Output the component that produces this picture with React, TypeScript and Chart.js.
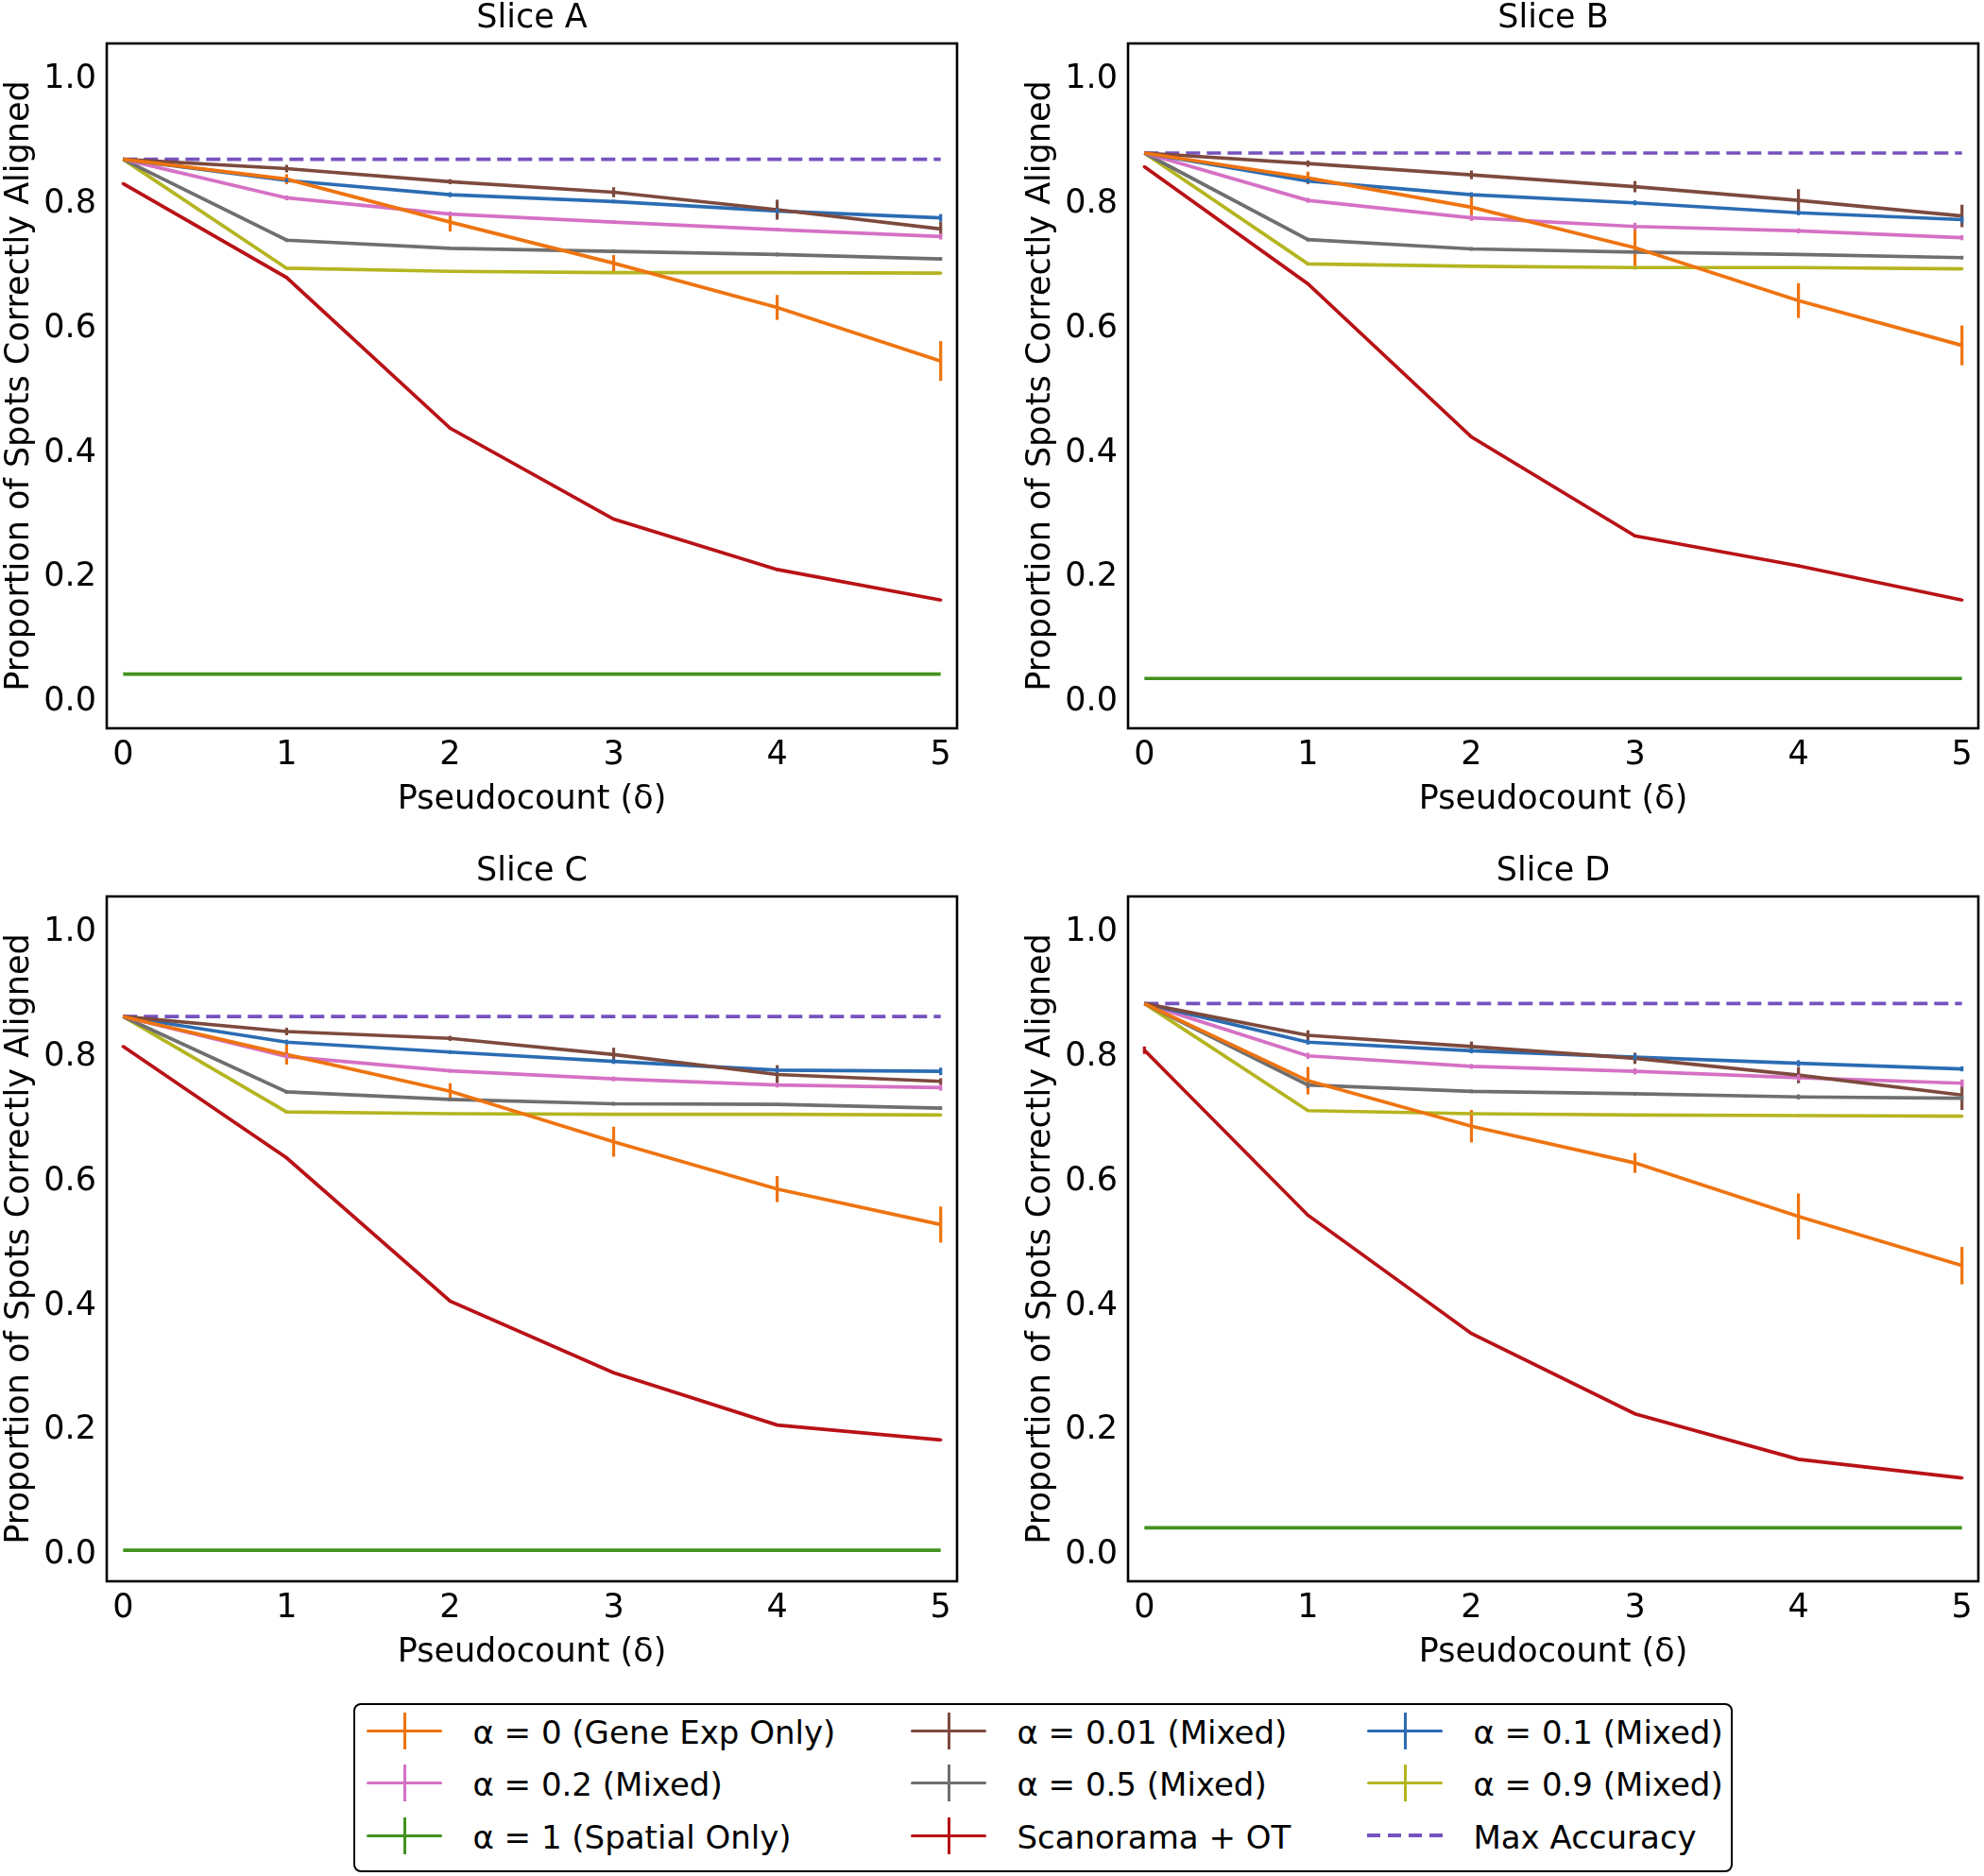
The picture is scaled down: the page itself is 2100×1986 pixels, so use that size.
import React, { useEffect, useRef } from "react";
import { Chart, registerables } from "chart.js";

Chart.register(...registerables);

// ---------------- data ----------------
const pseudocounts = [0, 1, 2, 3, 4, 5];
const yTickValues = [0, 0.2, 0.4, 0.6, 0.8, 1.0];
const sliceNames = ["Slice A", "Slice B", "Slice C", "Slice D"];
const maxAccuracy = [0.864, 0.874, 0.857, 0.878];

// one row per slice (A, B, C, D), one value per pseudocount
const alpha0 = [
  [0.864, 0.832, 0.763, 0.697, 0.626, 0.540],
  [0.874, 0.834, 0.787, 0.722, 0.637, 0.565],
  [0.857, 0.796, 0.737, 0.656, 0.580, 0.523],
  [0.878, 0.754, 0.681, 0.622, 0.536, 0.457],
];
const alpha0Err = [
  [0, 0.008, 0.015, 0.013, 0.020, 0.032],
  [0, 0.010, 0.021, 0.035, 0.028, 0.032],
  [0, 0.016, 0.013, 0.024, 0.021, 0.029],
  [0, 0.022, 0.026, 0.016, 0.037, 0.030],
];
const alpha001 = [
  [0.864, 0.849, 0.828, 0.811, 0.783, 0.752],
  [0.874, 0.857, 0.839, 0.820, 0.798, 0.773],
  [0.857, 0.833, 0.822, 0.796, 0.764, 0.753],
  [0.878, 0.827, 0.809, 0.790, 0.763, 0.731],
];
const alpha001Err = [
  [0, 0.006, 0.004, 0.008, 0.016, 0.012],
  [0, 0.005, 0.007, 0.009, 0.018, 0.018],
  [0, 0.006, 0.004, 0.011, 0.015, 0.005],
  [0, 0.008, 0.008, 0.009, 0.013, 0.024],
];
const alpha01 = [
  [0.864, 0.830, 0.807, 0.796, 0.781, 0.770],
  [0.874, 0.829, 0.807, 0.794, 0.778, 0.767],
  [0.857, 0.816, 0.800, 0.785, 0.771, 0.769],
  [0.878, 0.816, 0.802, 0.792, 0.782, 0.773],
];
const alpha01Err = [
  [0, 0.003, 0.004, 0.003, 0.004, 0.006],
  [0, 0.004, 0.004, 0.004, 0.004, 0.005],
  [0, 0.004, 0.003, 0.004, 0.004, 0.006],
  [0, 0.004, 0.004, 0.005, 0.005, 0.004],
];
const alpha02 = [
  [0.864, 0.802, 0.776, 0.763, 0.751, 0.740],
  [0.874, 0.798, 0.770, 0.756, 0.749, 0.738],
  [0.857, 0.793, 0.770, 0.757, 0.747, 0.743],
  [0.878, 0.794, 0.777, 0.769, 0.759, 0.750],
];
const alpha02Err = [
  [0, 0.004, 0.004, 0.003, 0.003, 0.005],
  [0, 0.004, 0.005, 0.006, 0.004, 0.004],
  [0, 0.004, 0.003, 0.004, 0.004, 0.005],
  [0, 0.005, 0.004, 0.005, 0.005, 0.006],
];
const alpha05 = [
  [0.864, 0.734, 0.721, 0.716, 0.711, 0.704],
  [0.874, 0.735, 0.720, 0.715, 0.711, 0.706],
  [0.857, 0.736, 0.724, 0.717, 0.716, 0.710],
  [0.878, 0.747, 0.737, 0.733, 0.728, 0.726],
];
const alpha05Err = [
  [0, 0.003, 0.002, 0.003, 0.003, 0.003],
  [0, 0.003, 0.003, 0.003, 0.002, 0.003],
  [0, 0.003, 0.003, 0.003, 0.002, 0.003],
  [0, 0.005, 0.003, 0.003, 0.004, 0.004],
];
const alpha09 = [
  [0.864, 0.689, 0.684, 0.682, 0.682, 0.681],
  [0.874, 0.696, 0.692, 0.690, 0.690, 0.688],
  [0.857, 0.704, 0.701, 0.700, 0.700, 0.699],
  [0.878, 0.706, 0.701, 0.699, 0.698, 0.697],
];
const alpha09Err = [
  [0, 0.002, 0.002, 0.002, 0.002, 0.002],
  [0, 0.002, 0.002, 0.003, 0.002, 0.002],
  [0, 0.002, 0.002, 0.002, 0.002, 0.002],
  [0, 0.002, 0.002, 0.002, 0.002, 0.002],
];
const alpha1 = [
  [0.037, 0.037, 0.037, 0.037, 0.037, 0.037],
  [0.030, 0.030, 0.030, 0.030, 0.030, 0.030],
  [0.0, 0.0, 0.0, 0.0, 0.0, 0.0],
  [0.036, 0.036, 0.036, 0.036, 0.036, 0.036],
];
const scanoramaOT = [
  [0.825, 0.674, 0.432, 0.286, 0.205, 0.156],
  [0.852, 0.664, 0.418, 0.259, 0.211, 0.156],
  [0.809, 0.630, 0.400, 0.285, 0.201, 0.177],
  [0.803, 0.538, 0.348, 0.219, 0.146, 0.116],
];
const scanoramaOTErr = [
  [0.002, 0.002, 0.002, 0.002, 0.002, 0.002],
  [0.002, 0.002, 0.002, 0.002, 0.002, 0.002],
  [0.002, 0.002, 0.002, 0.002, 0.002, 0.002],
  [0.006, 0.002, 0.002, 0.002, 0.002, 0.002],
];

const seriesLabels = [
  "α = 0 (Gene Exp Only)",
  "α = 0.01 (Mixed)",
  "α = 0.1 (Mixed)",
  "α = 0.2 (Mixed)",
  "α = 0.5 (Mixed)",
  "α = 0.9 (Mixed)",
  "α = 1 (Spatial Only)",
  "Scanorama + OT",
  "Max Accuracy",
];

// ---------------- styles ----------------
const FONT = "'DejaVu Sans', 'Liberation Sans', sans-serif";
const FONT_SIZE = 35;
const LEGEND_FONT_SIZE = 34;
const LINE_W = 3.7;
const colors = {
  orange: "#ee7410",
  brown: "#7d4a3e",
  blue: "#2b6cb3",
  pink: "#d571c4",
  gray: "#6f6f6f",
  olive: "#b4b521",
  green: "#43921f",
  red: "#b81217",
  purple: "#7652bf",
};

const seriesDefs = [
  { label: seriesLabels[0], values: alpha0, errors: alpha0Err, color: colors.orange },
  { label: seriesLabels[1], values: alpha001, errors: alpha001Err, color: colors.brown },
  { label: seriesLabels[2], values: alpha01, errors: alpha01Err, color: colors.blue },
  { label: seriesLabels[3], values: alpha02, errors: alpha02Err, color: colors.pink },
  { label: seriesLabels[4], values: alpha05, errors: alpha05Err, color: colors.gray },
  { label: seriesLabels[5], values: alpha09, errors: alpha09Err, color: colors.olive },
  { label: seriesLabels[6], values: alpha1, errors: null, color: colors.green },
  { label: seriesLabels[7], values: scanoramaOT, errors: scanoramaOTErr, color: colors.red },
];

const CANVAS_W = 1019;
const CANVAS_H = 900;
const panelPositions = [
  { left: 0, top: 0 },
  { left: 1081, top: 0 },
  { left: 0, top: 903 },
  { left: 1081, top: 903 },
];

const errorBarPlugin = {
  id: "errorBars",
  afterDatasetsDraw(chart: any) {
    const { ctx, scales } = chart;
    const x = scales.x;
    const y = scales.y;
    ctx.save();
    chart.data.datasets.forEach((ds: any) => {
      if (!ds.errors) return;
      ctx.strokeStyle = ds.borderColor;
      ctx.lineWidth = 3.2;
      ds.data.forEach((p: any, i: number) => {
        const e = ds.errors[i];
        if (!e) return;
        const px = x.getPixelForValue(p.x);
        ctx.beginPath();
        ctx.moveTo(px, y.getPixelForValue(p.y - e));
        ctx.lineTo(px, y.getPixelForValue(p.y + e));
        ctx.stroke();
      });
    });
    ctx.restore();
  },
};

const framePlugin = {
  id: "frameTitle",
  afterDraw(chart: any, _args: any, opts: any) {
    const { ctx, chartArea: a } = chart;
    ctx.save();
    ctx.strokeStyle = "#000";
    ctx.lineWidth = 2.6;
    ctx.strokeRect(a.left, a.top, a.right - a.left, a.bottom - a.top);
    ctx.fillStyle = "#000";
    ctx.font = `${FONT_SIZE}px ${FONT}`;
    ctx.textAlign = "center";
    ctx.textBaseline = "middle";
    ctx.fillText(opts.text, (a.left + a.right) / 2, opts.y);
    ctx.restore();
  },
};

function Panel({ index }: { index: number }) {
  const ref = useRef<HTMLCanvasElement | null>(null);
  useEffect(() => {
    if (!ref.current) return;
    const datasets: any[] = seriesDefs.map((s) => ({
      label: s.label,
      data: s.values[index].map((v, i) => ({ x: pseudocounts[i], y: v })),
      errors: s.errors ? s.errors[index] : null,
      borderColor: s.color,
      backgroundColor: s.color,
      borderWidth: LINE_W,
      pointRadius: 0,
      tension: 0,
      fill: false,
    }));
    datasets.push({
      label: seriesLabels[8],
      data: [
        { x: pseudocounts[0], y: maxAccuracy[index] },
        { x: pseudocounts[pseudocounts.length - 1], y: maxAccuracy[index] },
      ],
      errors: null,
      borderColor: colors.purple,
      backgroundColor: colors.purple,
      borderWidth: LINE_W,
      borderDash: [15, 7],
      pointRadius: 0,
      fill: false,
    });
    const chart = new Chart(ref.current, {
      type: "line",
      data: { datasets },
      options: {
        animation: false,
        responsive: false,
        devicePixelRatio: 1,
        layout: { padding: { top: 46, right: 6, left: 0, bottom: 0 } },
        plugins: {
          legend: { display: false },
          tooltip: { enabled: false },
          frameTitle: { text: sliceNames[index], y: 20 },
        } as any,
        scales: {
          x: {
            type: "linear",
            min: -0.1,
            max: 5.1,
            grid: { display: false, drawTicks: false },
            border: { display: false },
            afterBuildTicks: (s: any) => {
              s.ticks = pseudocounts.map((v) => ({ value: v }));
            },
            afterFit: (s: any) => {
              s.height = 129;
            },
            ticks: {
              color: "#000",
              padding: 8,
              font: { family: FONT, size: FONT_SIZE },
              callback: (v: any) => String(v),
              maxRotation: 0,
              autoSkip: false,
            },
            title: {
              display: true,
              text: "Pseudocount (δ)",
              color: "#000",
              font: { family: FONT, size: FONT_SIZE },
              padding: { top: 0, bottom: 32 },
            },
          },
          y: {
            type: "linear",
            min: -0.05,
            max: 1.05,
            grid: { display: false, drawTicks: false },
            border: { display: false },
            afterBuildTicks: (s: any) => {
              s.ticks = yTickValues.map((v) => ({ value: v }));
            },
            afterFit: (s: any) => {
              s.width = 113;
            },
            ticks: {
              color: "#000",
              padding: 11,
              labelOffset: 5,
              font: { family: FONT, size: FONT_SIZE },
              callback: (v: any) => Number(v).toFixed(1),
              autoSkip: false,
            },
            title: {
              display: true,
              text: "Proportion of Spots Correctly Aligned",
              color: "#000",
              font: { family: FONT, size: FONT_SIZE },
              padding: { top: 0, bottom: 0 },
            },
          },
        },
      },
      plugins: [errorBarPlugin, framePlugin],
    } as any);
    return () => chart.destroy();
  }, [index]);
  const pos = panelPositions[index];
  return (
    <canvas
      ref={ref}
      width={CANVAS_W}
      height={CANVAS_H}
      style={{ position: "absolute", left: pos.left, top: pos.top, width: CANVAS_W, height: CANVAS_H }}
    />
  );
}

// legend layout: column-major, 3 columns x 3 rows
const legendOrder = [0, 3, 6, 1, 4, 7, 2, 5, 8];
const legendColors = [
  colors.orange, colors.brown, colors.blue, colors.pink, colors.gray,
  colors.olive, colors.green, colors.red, colors.purple,
];
const legendMarkerLeft = [15, 591, 1074];
const legendTextLeft = [127, 703, 1186];
const legendRowCenter = [30, 85, 141];

function Marker({ color, dashed }: { color: string; dashed: boolean }) {
  if (dashed) {
    return (
      <div style={{ position: "absolute", left: 0, top: 18, width: 80, height: 4 }}>
        {[0, 1, 2, 3].map((k) => (
          <div key={k} style={{ position: "absolute", left: k * 22, top: 0, width: 14, height: 3.8, background: color }} />
        ))}
      </div>
    );
  }
  return (
    <div style={{ position: "absolute", left: 0, top: 0, width: 80, height: 40 }}>
      <div style={{ position: "absolute", left: 0, top: 18.2, width: 80, height: 3.8, background: color, borderRadius: 1.5 }} />
      <div style={{ position: "absolute", left: 38.2, top: 0.5, width: 3.6, height: 39, background: color }} />
    </div>
  );
}

function Legend() {
  return (
    <div
      style={{
        position: "absolute",
        left: 374,
        top: 1803,
        width: 1460,
        height: 179,
        boxSizing: "border-box",
        border: "2.6px solid #000",
        borderRadius: 8,
        background: "#fff",
        fontFamily: FONT,
        fontSize: LEGEND_FONT_SIZE,
        color: "#000",
      }}
    >
      {legendOrder.map((si, k) => {
        const col = Math.floor(k / 3);
        const row = k % 3;
        const cy = legendRowCenter[row] - 2.6;
        return (
          <React.Fragment key={si}>
            <div style={{ position: "absolute", left: legendMarkerLeft[col] - 2.6, top: cy - 20, width: 80, height: 40 }}>
              <Marker color={legendColors[si]} dashed={si === 8} />
            </div>
            <div
              style={{
                position: "absolute",
                left: legendTextLeft[col] - 2.6,
                top: cy - 18,
                height: 40,
                lineHeight: "40px",
                whiteSpace: "nowrap",
              }}
            >
              {seriesLabels[si]}
            </div>
          </React.Fragment>
        );
      })}
    </div>
  );
}

export default function App() {
  return (
    <div style={{ position: "absolute", left: 0, top: 0, width: 2100, height: 1986, background: "#fff", overflow: "hidden" }}>
      {[0, 1, 2, 3].map((i) => (
        <Panel key={i} index={i} />
      ))}
      <Legend />
    </div>
  );
}
